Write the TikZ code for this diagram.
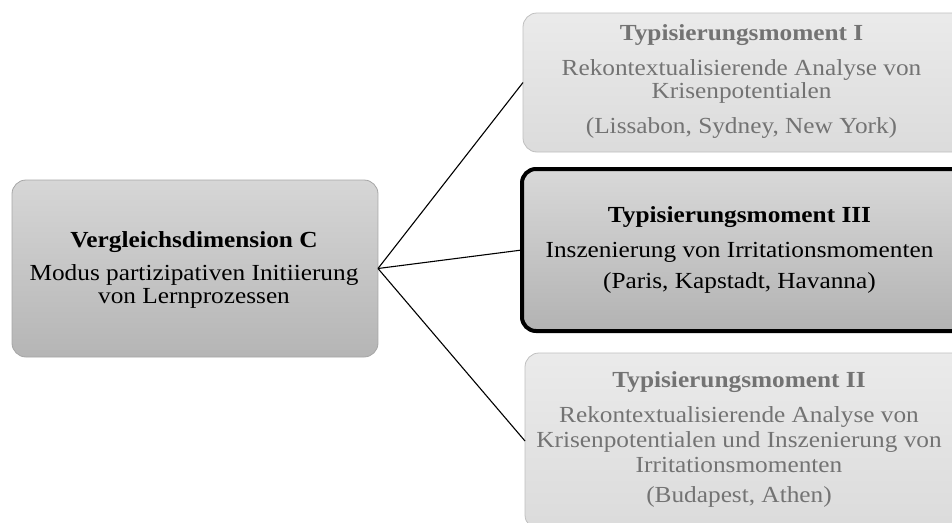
\documentclass[tikz,border=0pt]{standalone}
\usepackage{fontspec}
\setmainfont{Liberation Serif}[FakeStretch=1.10]
\begin{document}
\begin{tikzpicture}[x=1pt,y=-1pt,
  every node/.style={inner sep=0pt,outer sep=0pt},
  dimbox/.style={draw=gray!70,line width=0.8pt,rounded corners=14pt,
    top color=black!16,bottom color=black!29,minimum width=366pt,minimum height=177pt},
  focusbox/.style={draw=black,line width=4pt,rounded corners=14pt,
    top color=black!15,bottom color=black!30,minimum width=450pt,minimum height=162pt},
  palebox/.style={draw=black!25,line width=0.8pt,rounded corners=14pt,
    top color=black!8,bottom color=black!14,minimum width=450pt},
  ln/.style={anchor=base,font=\fontsize{23}{24}\selectfont},
  head/.style={ln,font=\fontsize{23}{24}\selectfont\bfseries},
  dim/.style={text=black!55},
  link/.style={draw=black,line width=1.1pt}]
\useasboundingbox (0,0) rectangle (952,522);
\clip (0,0) rectangle (952,522);
% source box
\node[dimbox] (dim) at (195,268.5) {};
\node[head] (dimA) at (194,247) {Vergleichsdimension C};
\node[ln]   (dimB) at (194,280) {Modus partizipativen Initiierung};
\node[ln]   (dimC) at (194,303) {von Lernprozessen};
% three typification boxes, cut at the right margin
\node[palebox,minimum height=139pt] (t1) at (748,82.5) {};
\node[head,dim] (t1A) at (741.5,40)  {Typisierungsmoment I};
\node[ln,dim]   (t1B) at (741.5,75)  {Rekontextualisierende Analyse von};
\node[ln,dim]   (t1C) at (741.5,98)  {Krisenpotentialen};
\node[ln,dim]   (t1D) at (741.5,133) {(Lissabon, Sydney, New York)};
\node[focusbox] (t3) at (747,250) {};
\node[head] (t3A) at (739.5,222) {Typisierungsmoment III};
\node[ln]   (t3B) at (739.5,257) {Inszenierung von Irritationsmomenten};
\node[ln]   (t3C) at (739.5,288) {(Paris, Kapstadt, Havanna)};
\node[palebox,minimum height=176pt] (t2) at (750,441) {};
\node[head,dim] (t2A) at (739,387) {Typisierungsmoment II};
\node[ln,dim]   (t2B) at (739,422) {Rekontextualisierende Analyse von};
\node[ln,dim]   (t2C) at (739,447) {Krisenpotentialen und Inszenierung von};
\node[ln,dim]   (t2D) at (739,472) {Irritationsmomenten};
\node[ln,dim]   (t2E) at (739,502) {(Budapest, Athen)};
% connectors
\draw[link] (dim.east) -- (t1.west);
\draw[link] (dim.east) -- (t3.west);
\draw[link] (dim.east) -- (t2.west);
\end{tikzpicture}
\end{document}
